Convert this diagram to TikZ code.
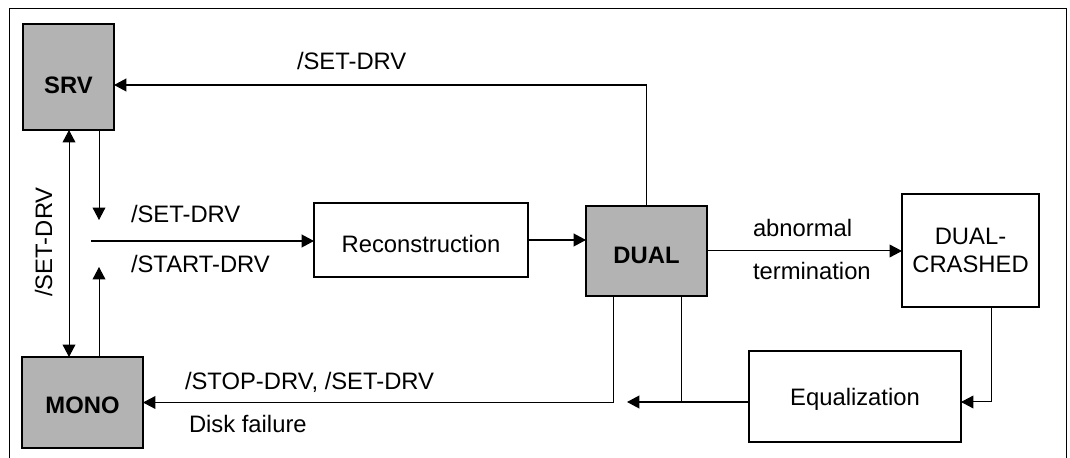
\documentclass[tikz,border=0pt]{standalone}
\usepackage{fontspec}
\setmainfont{Liberation Sans}
\usetikzlibrary{arrows.meta,calc}
\definecolor{boxgray}{RGB}{179,179,179}
\begin{document}
\begin{tikzpicture}[x=0.5pt,y=-0.5pt,
  every node/.style={font=\fontsize{11.9}{14}\selectfont, inner sep=0pt, outer sep=0pt},
  bold/.style={font=\fontsize{11.9}{14}\selectfont\bfseries},
  gbox/.style={draw, fill=boxgray, line width=0.9pt, rectangle},
  wbox/.style={draw, line width=0.55pt, rectangle},
  thk/.style={line width=0.8pt},
  thn/.style={line width=0.5pt},
  tip/.style={-{Triangle[length=6.2pt,width=6.4pt]}},
  dtip/.style={{Triangle[length=6.2pt,width=6.4pt]}-{Triangle[length=6.2pt,width=6.4pt]}}]
\useasboundingbox (0,0) rectangle (1070,458);
% frame
\coordinate (f1) at (9,458); \coordinate (f2) at (9,9);
\coordinate (f3) at (1066,9); \coordinate (f4) at (1066,458);
\draw[line width=0.5pt] (f1) -- (f2) -- (f3) -- (f4);
% boxes
\node[gbox, minimum width=45.5pt, minimum height=53pt] (SRV) at (68.5,77) {};
\node[bold] (SRVt) at (68.5,85) {SRV};
\node[gbox, line width=0.6pt, minimum width=60.5pt, minimum height=45.5pt] (MONO) at (82.5,402.5) {};
\node[bold] (MONOt) at (82.5,405) {MONO};
\node[gbox, minimum width=60.5pt, minimum height=45pt] (DUAL) at (646.5,251) {};
\node[bold] (DUALt) at (646.5,255) {DUAL};
\node[wbox, minimum width=107pt, minimum height=37pt] (Recon) at (421,240) {};
\node (Recont) at (421,243.5) {Reconstruction};
\node[wbox, minimum width=68.5pt, minimum height=56.5pt, align=center] (DC) at (970.5,250.5) {DUAL-\\CRASHED};
\node[wbox, minimum width=106pt, minimum height=45.5pt] (Eq) at (855,396.5) {};
\node (Eqt) at (855,399) {Equalization};
% helper coordinates
\coordinate (xa) at (99,0);
\coordinate (xb) at (69,0);
\coordinate (srvdn) at (99,220);
\coordinate (monoup) at (99,267);
\coordinate (h0) at (91,241);
\coordinate (xc) at (991,0);
\coordinate (eqin) at ($(Eq.east)+(0,5.5)$);
\coordinate (eqout) at (627,402);
\coordinate (xd) at (681,402);
\coordinate (xe) at (613,0);
% connectors
\draw[thk,tip] (DUAL.north) |- ($(SRV.east)+(0,8)$);
\draw[thn,tip] (SRV.south -| xa) -- (srvdn);
\draw[thk,tip] (h0) -- (h0 -| Recon.west);
\draw[thn,tip] (MONO.north -| xa) -- (monoup);
\draw[thn,dtip] (SRV.south -| xb) -- (MONO.north -| xb);
\draw[thk,tip] (Recon.east) -- (Recon.east -| DUAL.west);
\draw[thn,tip] (DUAL.east) -- (DUAL.east -| DC.west);
\draw[thn,tip] (DC.south -| xc) |- (eqin);
\draw[thk,tip] (eqin -| Eq.west) -- (eqout);
\draw[thn] (DUAL.south -| xd) -- (xd);
\draw[thn,tip] (DUAL.south -| xe) |- (MONO.east);
% labels
\node[anchor=base west] (l1) at (297,70) {/SET-DRV};
\node[anchor=base west] (l2) at (131,223) {/SET-DRV};
\node[anchor=base west] (l3) at (131,273) {/START-DRV};
\node[anchor=base, rotate=90] (l4) at (52,242) {/SET-DRV};
\node[anchor=base west] (l5) at (185,390) {/STOP-DRV, /SET-DRV};
\node[anchor=base west] (l6) at (189,433) {Disk failure};
\node[anchor=base west] (l7) at (753,237) {abnormal};
\node[anchor=base west] (l8) at (753,280) {termination};
\end{tikzpicture}
\end{document}
